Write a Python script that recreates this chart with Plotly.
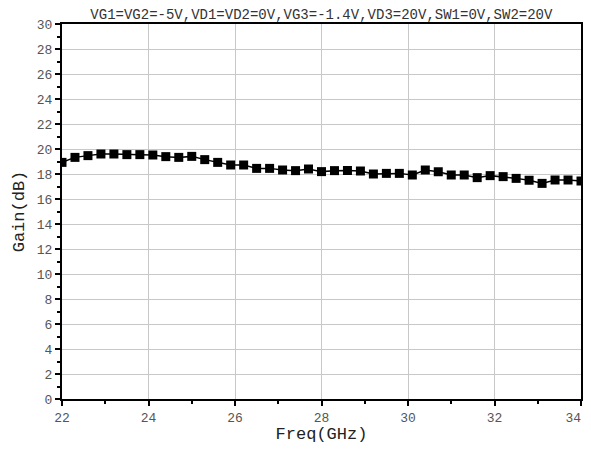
import plotly.graph_objects as go

freq = [22.0, 22.3, 22.6, 22.9, 23.2, 23.5, 23.8, 24.1, 24.4, 24.7,
        25.0, 25.3, 25.6, 25.9, 26.2, 26.5, 26.8, 27.1, 27.4, 27.7,
        28.0, 28.3, 28.6, 28.9, 29.2, 29.5, 29.8, 30.1, 30.4, 30.7,
        31.0, 31.3, 31.6, 31.9, 32.2, 32.5, 32.8, 33.1, 33.4, 33.7, 34.0]
gain = [18.93, 19.33, 19.47, 19.6, 19.6, 19.55, 19.55, 19.52, 19.39, 19.33,
        19.41, 19.15, 18.93, 18.72, 18.72, 18.45, 18.45, 18.32, 18.27, 18.4,
        18.19, 18.27, 18.28, 18.24, 18.0, 18.05, 18.05, 17.92, 18.32, 18.18,
        17.92, 17.92, 17.71, 17.87, 17.79, 17.65, 17.5, 17.25, 17.52, 17.52, 17.44]

x_tickvals = [22, 24, 26, 28, 30, 32, 34]
x_ticktext = ["22", "24", "26", "28", "30", "32", "34\u00a0\u00a0"]

title_text = "VG1=VG2=-5V,VD1=VD2=0V,VG3=-1.4V,VD3=20V,SW1=0V,SW2=20V"
x_title = "Freq(GHz)"
y_title = "Gain(dB)"

fig = go.Figure()
fig.add_trace(go.Scatter(
    x=freq, y=gain, mode="lines+markers",
    line=dict(color="black", width=1.5),
    marker=dict(symbol="square", size=9, color="black"),
    cliponaxis=True, showlegend=False,
))

mono = "Liberation Mono"
fig.update_layout(
    width=575, height=436,
    margin=dict(l=54, r=2, t=16, b=45, autoexpand=False),
    paper_bgcolor="white", plot_bgcolor="white",
    title=dict(text=title_text, x=0.545, xanchor="center", y=0.974, yanchor="bottom",
               font=dict(family=mono, size=14, color="#333")),
)
fig.update_xaxes(
    range=[22, 34], tickmode="array", tickvals=x_tickvals, ticktext=x_ticktext,
    showgrid=True, gridcolor="#c8c8c8", gridwidth=1,
    showline=True, linecolor="black", linewidth=2, mirror=True,
    ticks="outside", ticklen=5, tickwidth=2, tickcolor="black",
    minor=dict(dtick=1, tick0=22, ticks="outside", ticklen=3, tickwidth=1.5, tickcolor="black", showgrid=False),
    tickfont=dict(family=mono, size=13, color="#555"),
    ticklabeloverflow="allow",
    title=dict(text=x_title, font=dict(family=mono, size=17, color="#222"), standoff=10),
    zeroline=False,
)
fig.update_yaxes(
    range=[0, 30], dtick=2, tick0=0,
    showgrid=True, gridcolor="#c8c8c8", gridwidth=1,
    showline=True, linecolor="black", linewidth=2, mirror=True,
    ticks="outside", ticklen=5, tickwidth=2, tickcolor="black",
    minor=dict(dtick=1, ticks="outside", ticklen=3, tickwidth=1.5, tickcolor="black", showgrid=False),
    tickfont=dict(family=mono, size=13, color="#555"),
    ticklabeloverflow="allow",
    title=dict(text=y_title, font=dict(family=mono, size=17, color="#222"), standoff=8),
    zeroline=False,
)

fig.write_html("out.html")
